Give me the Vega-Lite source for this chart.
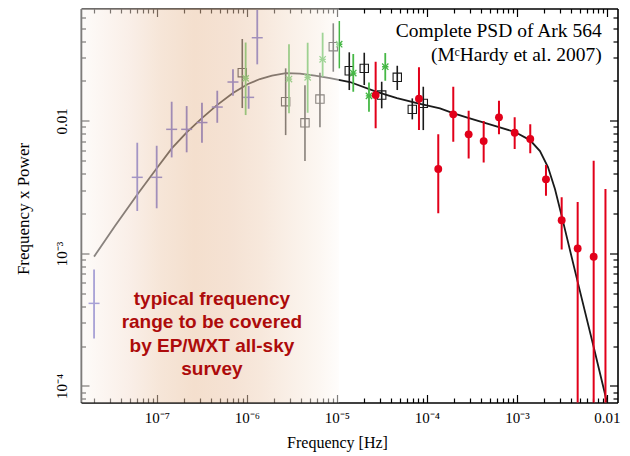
{
  "$schema": "https://vega.github.io/schema/vega-lite/v6.json",
  "width": 536.5,
  "height": 394,
  "autosize": "none",
  "padding": {"left": 81, "top": 8.5, "right": 12.5, "bottom": 53.5},
  "background": "white",
  "config": {
    "view": {"stroke": null},
    "axis": {"grid": false, "zindex": 1, "domainColor": "black", "tickColor": "black", "labelColor": "black", "titleColor": "black", "labelFont": "Liberation Serif", "titleFont": "Liberation Serif", "titleFontWeight": "normal", "labelFlush": false, "labelOverlap": false, "labelBound": false, "domainWidth": 1.6, "tickWidth": 1.2}
  },
  "datasets": {
    "curve": [
      {"f": 2.0e-8, "p": 9.46e-4}, {"f": 3.415e-8, "p": 1.607e-3}, {"f": 5.995e-8, "p": 2.754e-3}, {"f": 1.0e-7, "p": 4.403e-3},
      {"f": 1.468e-7, "p": 6.232e-3}, {"f": 2.154e-7, "p": 8.23e-3}, {"f": 3.162e-7, "p": 0.0105}, {"f": 4.642e-7, "p": 0.01315},
      {"f": 6.99e-7, "p": 0.0162}, {"f": 1.026e-6, "p": 0.01896}, {"f": 1.394e-6, "p": 0.02068}, {"f": 1.896e-6, "p": 0.02197},
      {"f": 2.713e-6, "p": 0.02295}, {"f": 3.88e-6, "p": 0.02275}, {"f": 5.70e-6, "p": 0.02197}, {"f": 8.36e-6, "p": 0.02104},
      {"f": 1.394e-5, "p": 0.01963}, {"f": 2.712e-5, "p": 0.01664}, {"f": 4.642e-5, "p": 0.01486}, {"f": 8.15e-5, "p": 0.0135},
      {"f": 1.394e-4, "p": 0.01243}, {"f": 1.945e-4, "p": 0.01145}, {"f": 2.929e-4, "p": 0.0105}, {"f": 4.297e-4, "p": 9.71e-3},
      {"f": 6.31e-4, "p": 8.98e-3}, {"f": 9.50e-4, "p": 8.23e-3}, {"f": 1.394e-3, "p": 7.16e-3}, {"f": 1.801e-3, "p": 5.917e-3},
      {"f": 2.21e-3, "p": 4.48e-3}, {"f": 2.643e-3, "p": 3.057e-3}, {"f": 3.162e-3, "p": 1.879e-3}, {"f": 4.762e-3, "p": 5.966e-4},
      {"f": 7.17e-3, "p": 1.929e-4}, {"f": 0.01, "p": 7.546e-5}
    ],
    "purple": [
      {"f": 2.0e-8, "p": 4.20e-4, "lo": 2.28e-4, "hi": 7.57e-4},
      {"f": 6.04e-8, "p": 3.75e-3, "lo": 2.09e-3, "hi": 6.84e-3},
      {"f": 9.93e-8, "p": 3.75e-3, "lo": 2.19e-3, "hi": 6.49e-3},
      {"f": 1.457e-7, "p": 8.63e-3, "lo": 5.30e-3, "hi": 0.01394},
      {"f": 2.138e-7, "p": 8.63e-3, "lo": 5.79e-3, "hi": 0.01293},
      {"f": 3.162e-7, "p": 9.71e-3, "lo": 6.84e-3, "hi": 0.0137},
      {"f": 4.677e-7, "p": 0.01271, "lo": 9.67e-3, "hi": 0.01688},
      {"f": 6.99e-7, "p": 0.01963, "lo": 0.01546, "hi": 0.02447},
      {"f": 1.044e-6, "p": 0.01504, "lo": 0.01234, "hi": 0.01831},
      {"f": 1.301e-6, "p": 0.04238, "lo": 0.02669, "hi": 0.06857}
    ],
    "squares": [
      {"f": 8.87e-7, "p": 0.02307, "lo": 0.01249, "hi": 0.04143},
      {"f": 2.69e-6, "p": 0.01394, "lo": 7.81e-3, "hi": 0.02489},
      {"f": 4.41e-6, "p": 9.67e-3, "lo": 4.97e-3, "hi": 0.01853},
      {"f": 6.47e-6, "p": 0.0146, "lo": 8.93e-3, "hi": 0.02307},
      {"f": 9.10e-6, "p": 0.03624, "lo": 0.02348, "hi": 0.05444},
      {"f": 1.370e-5, "p": 0.02388, "lo": 0.01708, "hi": 0.03289},
      {"f": 2.01e-5, "p": 0.02489, "lo": 0.01863, "hi": 0.03266},
      {"f": 3.14e-5, "p": 0.01565, "lo": 0.01243, "hi": 0.01973},
      {"f": 4.677e-5, "p": 0.02129, "lo": 0.01708, "hi": 0.02604},
      {"f": 6.87e-5, "p": 0.01221, "lo": 0.01026, "hi": 0.01478},
      {"f": 9.10e-5, "p": 0.01355, "lo": 8.52e-3, "hi": 0.01809}
    ],
    "green": [
      {"f": 9.67e-7, "p": 0.02093, "lo": 0.01106, "hi": 0.03899},
      {"f": 2.93e-6, "p": 0.02068, "lo": 0.0114, "hi": 0.03779},
      {"f": 4.725e-6, "p": 0.02129, "lo": 0.01151, "hi": 0.03885},
      {"f": 6.93e-6, "p": 0.02912, "lo": 0.02152, "hi": 0.04624},
      {"f": 1.058e-5, "p": 0.03785, "lo": 0.02489, "hi": 0.05664},
      {"f": 1.517e-5, "p": 0.02295, "lo": 0.01658, "hi": 0.03193},
      {"f": 2.268e-5, "p": 0.01544, "lo": 0.01171, "hi": 0.01946},
      {"f": 3.44e-5, "p": 0.0256, "lo": 0.02007, "hi": 0.03248}
    ],
    "red": [
      {"f": 2.69e-5, "p": 0.01565, "lo": 8.78e-3, "hi": 0.02793},
      {"f": 8.15e-5, "p": 0.01468, "lo": 8.52e-3, "hi": 0.02533},
      {"f": 1.335e-4, "p": 4.33e-3, "lo": 2.01e-3, "hi": 7.91e-3},
      {"f": 1.96e-4, "p": 0.0112, "lo": 6.96e-3, "hi": 0.01809},
      {"f": 2.905e-4, "p": 7.91e-3, "lo": 5.21e-3, "hi": 0.01192},
      {"f": 4.266e-4, "p": 7.04e-3, "lo": 4.86e-3, "hi": 9.97e-3},
      {"f": 6.31e-4, "p": 0.01063, "lo": 7.91e-3, "hi": 0.01418},
      {"f": 9.43e-4, "p": 8.13e-3, "lo": 6.13e-3, "hi": 0.01063},
      {"f": 1.405e-3, "p": 7.29e-3, "lo": 5.69e-3, "hi": 9.41e-3},
      {"f": 2.10e-3, "p": 3.62e-3, "lo": 2.72e-3, "hi": 4.64e-3},
      {"f": 3.138e-3, "p": 1.78e-3, "lo": 1.07e-3, "hi": 2.65e-3},
      {"f": 4.725e-3, "p": 1.09e-3, "lo": 1e-5, "hi": 2.44e-3},
      {"f": 7.115e-3, "p": 9.43e-4, "lo": 1e-5, "hi": 5.0e-3},
      {"f": 9.62e-3, "p": null, "lo": 1e-5, "hi": 3.06e-3}
    ],
    "band": [{"f0": 1.432e-8, "f1": 1.05e-5}],
    "notes": [
      {"f": 4.08e-7, "p": 4.52e-4, "label": "typical frequency\nrange to be covered\nby EP/WXT all-sky\nsurvey"}
    ],
    "heading": [
      {"f": 8.73e-3, "p": 0.0476, "label": "Complete PSD of Ark 564\n(MᶜHardy et al. 2007)"}
    ]
  },
  "resolve": {"axis": {"x": "independent", "y": "independent"}},
  "layer": [
    {
      "data": {"name": "curve"},
      "mark": {"type": "line", "color": "#1a1a1a", "strokeWidth": 1.8},
      "encoding": {
        "x": {"field": "f", "type": "quantitative", "scale": {"type": "log", "domain": [1.432e-8, 0.01309], "nice": false},
          "axis": {"orient": "bottom", "values": [1e-7, 1e-6, 1e-5, 1e-4, 1e-3, 1e-2], "tickSize": -8, "labelPadding": 16, "labelFontSize": 15,
            "labelExpr": "datum.value > 0.005 ? '0.01' : datum.value > 0.0005 ? '10⁻³' : datum.value > 0.00005 ? '10⁻⁴' : datum.value > 0.000005 ? '10⁻⁵' : datum.value > 0.0000005 ? '10⁻⁶' : '10⁻⁷'",
            "title": "Frequency [Hz]", "titleFontSize": 16, "titleX": 256, "titleY": 40, "titleBaseline": "middle", "titleAnchor": null}},
        "y": {"field": "p", "type": "quantitative", "scale": {"type": "log", "domain": [7.507e-5, 0.0704], "nice": false},
          "axis": {"orient": "left", "values": [1e-4, 1e-3, 1e-2], "tickSize": -8, "labelPadding": 20, "labelFontSize": 15, "labelAngle": -90, "labelAlign": "center", "labelBaseline": "bottom",
            "labelExpr": "datum.value > 0.005 ? '0.01' : datum.value > 0.0005 ? '10⁻³' : '10⁻⁴'",
            "title": "Frequency x Power", "titleFontSize": 17, "titleAngle": -90, "titleX": -58, "titleY": 200, "titleBaseline": "middle", "titleAlign": "center"}}
      }
    },
    {
      "data": {"name": "purple"},
      "mark": {"type": "rule", "color": "#5550c0", "strokeWidth": 1.8},
      "encoding": {
        "x": {"field": "f", "type": "quantitative", "scale": {"type": "log", "domain": [1.432e-8, 0.01309], "nice": false},
          "axis": {"orient": "bottom", "values": [2e-8, 3e-8, 4e-8, 5e-8, 6e-8, 7e-8, 8e-8, 9e-8, 2e-7, 3e-7, 4e-7, 5e-7, 6e-7, 7e-7, 8e-7, 9e-7, 2e-6, 3e-6, 4e-6, 5e-6, 6e-6, 7e-6, 8e-6, 9e-6, 2e-5, 3e-5, 4e-5, 5e-5, 6e-5, 7e-5, 8e-5, 9e-5, 2e-4, 3e-4, 4e-4, 5e-4, 6e-4, 7e-4, 8e-4, 9e-4, 2e-3, 3e-3, 4e-3, 5e-3, 6e-3, 7e-3, 8e-3, 9e-3], "tickSize": -4.5, "labels": false, "domain": false, "title": null}},
        "y": {"field": "lo", "type": "quantitative", "scale": {"type": "log", "domain": [7.507e-5, 0.0704], "nice": false},
          "axis": {"orient": "left", "values": [8e-5, 9e-5, 2e-4, 3e-4, 4e-4, 5e-4, 6e-4, 7e-4, 8e-4, 9e-4, 2e-3, 3e-3, 4e-3, 5e-3, 6e-3, 7e-3, 8e-3, 9e-3, 0.02, 0.03, 0.04, 0.05, 0.06], "tickSize": -4.5, "labels": false, "domain": false, "title": null}},
        "y2": {"field": "hi"}
      }
    },
    {
      "data": {"name": "purple"},
      "mark": {"type": "tick", "orient": "horizontal", "color": "#5550c0", "size": 11, "thickness": 1.5, "opacity": 1},
      "encoding": {
        "x": {"field": "f", "type": "quantitative", "scale": {"type": "log", "domain": [1.432e-8, 0.01309], "nice": false},
          "axis": {"orient": "top", "values": [1e-7, 1e-6, 1e-5, 1e-4, 1e-3, 1e-2], "tickSize": -8, "labels": false, "title": null}},
        "y": {"field": "p", "type": "quantitative", "scale": {"type": "log", "domain": [7.507e-5, 0.0704], "nice": false},
          "axis": {"orient": "right", "values": [1e-4, 1e-3, 1e-2], "tickSize": -8, "labels": false, "title": null}}
      }
    },
    {
      "data": {"name": "squares"},
      "mark": {"type": "rule", "color": "#1a1a1a", "strokeWidth": 1.6},
      "encoding": {
        "x": {"field": "f", "type": "quantitative", "scale": {"type": "log", "domain": [1.432e-8, 0.01309], "nice": false},
          "axis": {"orient": "top", "values": [2e-8, 3e-8, 4e-8, 5e-8, 6e-8, 7e-8, 8e-8, 9e-8, 2e-7, 3e-7, 4e-7, 5e-7, 6e-7, 7e-7, 8e-7, 9e-7, 2e-6, 3e-6, 4e-6, 5e-6, 6e-6, 7e-6, 8e-6, 9e-6, 2e-5, 3e-5, 4e-5, 5e-5, 6e-5, 7e-5, 8e-5, 9e-5, 2e-4, 3e-4, 4e-4, 5e-4, 6e-4, 7e-4, 8e-4, 9e-4, 2e-3, 3e-3, 4e-3, 5e-3, 6e-3, 7e-3, 8e-3, 9e-3], "tickSize": -4.5, "labels": false, "domain": false, "title": null}},
        "y": {"field": "lo", "type": "quantitative", "scale": {"type": "log", "domain": [7.507e-5, 0.0704], "nice": false},
          "axis": {"orient": "right", "values": [8e-5, 9e-5, 2e-4, 3e-4, 4e-4, 5e-4, 6e-4, 7e-4, 8e-4, 9e-4, 2e-3, 3e-3, 4e-3, 5e-3, 6e-3, 7e-3, 8e-3, 9e-3, 0.02, 0.03, 0.04, 0.05, 0.06], "tickSize": -4.5, "labels": false, "domain": false, "title": null}},
        "y2": {"field": "hi"}
      }
    },
    {
      "data": {"name": "squares"},
      "mark": {"type": "point", "shape": "square", "filled": false, "stroke": "#1a1a1a", "strokeWidth": 1.1, "size": 70, "opacity": 1},
      "encoding": {
        "x": {"field": "f", "type": "quantitative", "scale": {"type": "log", "domain": [1.432e-8, 0.01309], "nice": false}, "axis": null},
        "y": {"field": "p", "type": "quantitative", "scale": {"type": "log", "domain": [7.507e-5, 0.0704], "nice": false}, "axis": null}
      }
    },
    {
      "data": {"name": "green"},
      "mark": {"type": "rule", "color": "#45b845", "strokeWidth": 1.8},
      "encoding": {
        "x": {"field": "f", "type": "quantitative", "scale": {"type": "log", "domain": [1.432e-8, 0.01309], "nice": false}, "axis": null},
        "y": {"field": "lo", "type": "quantitative", "scale": {"type": "log", "domain": [7.507e-5, 0.0704], "nice": false}, "axis": null},
        "y2": {"field": "hi"}
      }
    },
    {
      "data": {"name": "green"},
      "mark": {"type": "point", "shape": "M-1,-1L1,1M-1,1L1,-1M-1,0L1,0", "filled": false, "stroke": "#45b845", "strokeWidth": 1.3, "size": 40, "opacity": 1},
      "encoding": {
        "x": {"field": "f", "type": "quantitative", "scale": {"type": "log", "domain": [1.432e-8, 0.01309], "nice": false}, "axis": null},
        "y": {"field": "p", "type": "quantitative", "scale": {"type": "log", "domain": [7.507e-5, 0.0704], "nice": false}, "axis": null}
      }
    },
    {
      "data": {"name": "red"},
      "mark": {"type": "rule", "color": "#e2001a", "strokeWidth": 2, "clip": true},
      "encoding": {
        "x": {"field": "f", "type": "quantitative", "scale": {"type": "log", "domain": [1.432e-8, 0.01309], "nice": false}, "axis": null},
        "y": {"field": "lo", "type": "quantitative", "scale": {"type": "log", "domain": [7.507e-5, 0.0704], "nice": false}, "axis": null},
        "y2": {"field": "hi"}
      }
    },
    {
      "data": {"name": "red"},
      "mark": {"type": "point", "shape": "circle", "filled": true, "color": "#e2001a", "size": 62, "opacity": 1, "clip": true},
      "encoding": {
        "x": {"field": "f", "type": "quantitative", "scale": {"type": "log", "domain": [1.432e-8, 0.01309], "nice": false}, "axis": null},
        "y": {"field": "p", "type": "quantitative", "scale": {"type": "log", "domain": [7.507e-5, 0.0704], "nice": false}, "axis": null}
      }
    },
    {
      "data": {"name": "band"},
      "mark": {"type": "rect", "opacity": 0.5, "fill": {"gradient": "linear", "x1": 0, "x2": 1, "y1": 0, "y2": 0, "stops": [
        {"offset": 0, "color": "#fcf8f4"},
        {"offset": 0.19, "color": "#f4ded0"},
        {"offset": 0.31, "color": "#edccb0"},
        {"offset": 0.44, "color": "#e9bf9c"},
        {"offset": 0.58, "color": "#ebc5a8"},
        {"offset": 0.70, "color": "#efd1b9"},
        {"offset": 0.81, "color": "#f4e0cf"},
        {"offset": 0.92, "color": "#f9eee4"},
        {"offset": 1, "color": "#fefbf8"}
      ]}},
      "encoding": {
        "x": {"field": "f0", "type": "quantitative", "scale": {"type": "log", "domain": [1.432e-8, 0.01309], "nice": false}, "axis": null},
        "x2": {"field": "f1"}
      }
    },
    {
      "data": {"name": "notes"},
      "mark": {"type": "text", "font": "Liberation Sans", "fontWeight": "bold", "fontSize": 19, "color": "#ad0b0b", "align": "center", "baseline": "middle", "lineBreak": "\n", "lineHeight": 23.3},
      "encoding": {
        "x": {"field": "f", "type": "quantitative", "scale": {"type": "log", "domain": [1.432e-8, 0.01309], "nice": false}, "axis": null},
        "y": {"field": "p", "type": "quantitative", "scale": {"type": "log", "domain": [7.507e-5, 0.0704], "nice": false}, "axis": null},
        "text": {"field": "label"}
      }
    },
    {
      "data": {"name": "heading"},
      "mark": {"type": "text", "font": "Liberation Serif", "fontSize": 19.5, "color": "black", "align": "right", "baseline": "middle", "lineBreak": "\n", "lineHeight": 23.5},
      "encoding": {
        "x": {"field": "f", "type": "quantitative", "scale": {"type": "log", "domain": [1.432e-8, 0.01309], "nice": false}, "axis": null},
        "y": {"field": "p", "type": "quantitative", "scale": {"type": "log", "domain": [7.507e-5, 0.0704], "nice": false}, "axis": null},
        "text": {"field": "label"}
      }
    }
  ]
}
